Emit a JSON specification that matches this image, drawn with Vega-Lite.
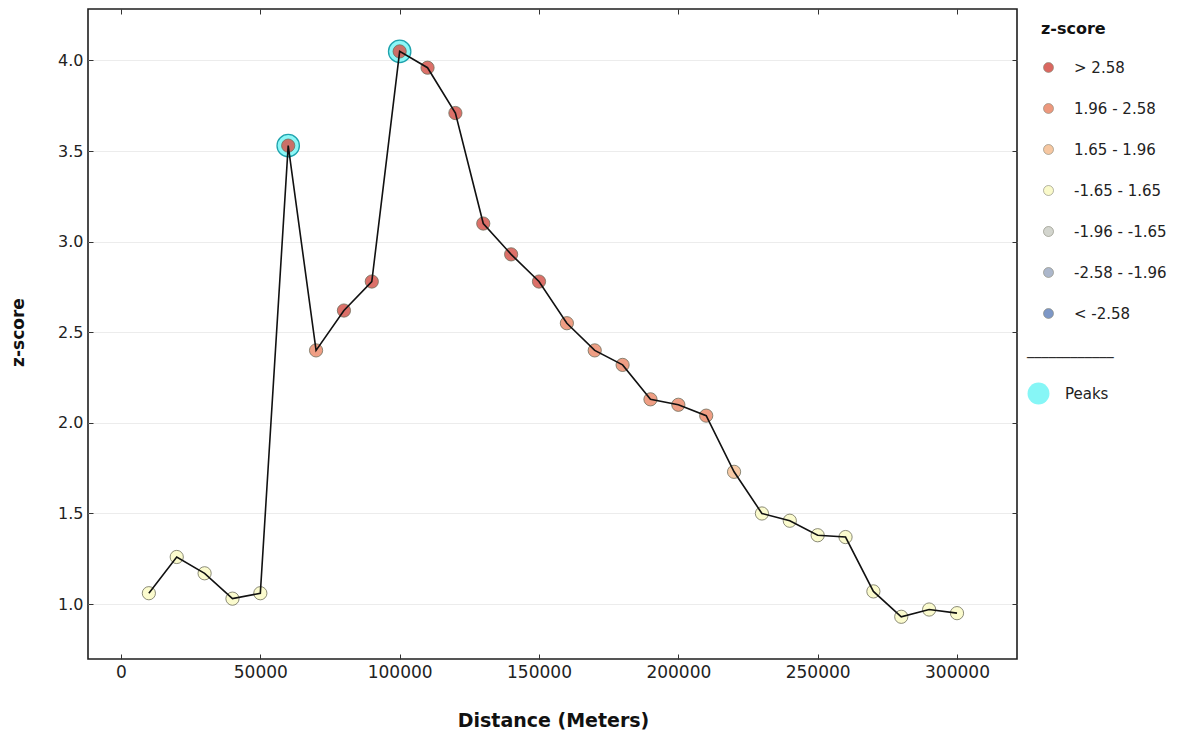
{
  "$schema": "https://vega.github.io/schema/vega-lite/v6.json",
  "width": 929,
  "height": 650,
  "autosize": {"type": "none"},
  "padding": {"left": 88, "top": 9, "right": 172, "bottom": 79},
  "background": "white",
  "config": {
    "font": "DejaVu Sans",
    "view": {"stroke": "#1e1e1e", "strokeWidth": 1.6},
    "axis": {
      "domain": false,
      "tickColor": "#333333",
      "tickSize": -5,
      "tickWidth": 1,
      "labelColor": "#222222",
      "titleColor": "#111111",
      "titleFontWeight": "bold"
    }
  },
  "data": {
    "values": [
      {"distance": 10000, "zscore": 1.06, "cls": "-1.65 - 1.65", "peak": false},
      {"distance": 20000, "zscore": 1.26, "cls": "-1.65 - 1.65", "peak": false},
      {"distance": 30000, "zscore": 1.17, "cls": "-1.65 - 1.65", "peak": false},
      {"distance": 40000, "zscore": 1.03, "cls": "-1.65 - 1.65", "peak": false},
      {"distance": 50000, "zscore": 1.06, "cls": "-1.65 - 1.65", "peak": false},
      {"distance": 60000, "zscore": 3.53, "cls": "> 2.58", "peak": true},
      {"distance": 70000, "zscore": 2.40, "cls": "1.96 - 2.58", "peak": false},
      {"distance": 80000, "zscore": 2.62, "cls": "> 2.58", "peak": false},
      {"distance": 90000, "zscore": 2.78, "cls": "> 2.58", "peak": false},
      {"distance": 100000, "zscore": 4.05, "cls": "> 2.58", "peak": true},
      {"distance": 110000, "zscore": 3.96, "cls": "> 2.58", "peak": false},
      {"distance": 120000, "zscore": 3.71, "cls": "> 2.58", "peak": false},
      {"distance": 130000, "zscore": 3.10, "cls": "> 2.58", "peak": false},
      {"distance": 140000, "zscore": 2.93, "cls": "> 2.58", "peak": false},
      {"distance": 150000, "zscore": 2.78, "cls": "> 2.58", "peak": false},
      {"distance": 160000, "zscore": 2.55, "cls": "1.96 - 2.58", "peak": false},
      {"distance": 170000, "zscore": 2.40, "cls": "1.96 - 2.58", "peak": false},
      {"distance": 180000, "zscore": 2.32, "cls": "1.96 - 2.58", "peak": false},
      {"distance": 190000, "zscore": 2.13, "cls": "1.96 - 2.58", "peak": false},
      {"distance": 200000, "zscore": 2.10, "cls": "1.96 - 2.58", "peak": false},
      {"distance": 210000, "zscore": 2.04, "cls": "1.96 - 2.58", "peak": false},
      {"distance": 220000, "zscore": 1.73, "cls": "1.65 - 1.96", "peak": false},
      {"distance": 230000, "zscore": 1.50, "cls": "-1.65 - 1.65", "peak": false},
      {"distance": 240000, "zscore": 1.46, "cls": "-1.65 - 1.65", "peak": false},
      {"distance": 250000, "zscore": 1.38, "cls": "-1.65 - 1.65", "peak": false},
      {"distance": 260000, "zscore": 1.37, "cls": "-1.65 - 1.65", "peak": false},
      {"distance": 270000, "zscore": 1.07, "cls": "-1.65 - 1.65", "peak": false},
      {"distance": 280000, "zscore": 0.93, "cls": "-1.65 - 1.65", "peak": false},
      {"distance": 290000, "zscore": 0.97, "cls": "-1.65 - 1.65", "peak": false},
      {"distance": 300000, "zscore": 0.95, "cls": "-1.65 - 1.65", "peak": false}
    ]
  },
  "encoding": {
    "x": {
      "field": "distance",
      "type": "quantitative",
      "scale": {"domain": [-11842, 321531], "nice": false, "zero": false},
      "axis": null
    },
    "y": {
      "field": "zscore",
      "type": "quantitative",
      "scale": {"domain": [0.697, 4.284], "nice": false, "zero": false},
      "axis": null
    }
  },
  "layer": [
    {
      "transform": [{"filter": "datum.peak"}],
      "mark": {"type": "point", "filled": true, "size": 500, "fill": "#80f6f6", "stroke": "#1fa3ad", "strokeWidth": 1.3, "fillOpacity": 0.9},
      "encoding": {
        "x": {
          "field": "distance",
          "type": "quantitative",
          "title": "Distance (Meters)",
          "axis": {
            "values": [0, 50000, 100000, 150000, 200000, 250000, 300000],
            "format": "d",
            "grid": false,
            "labelFontSize": 17,
            "labelPadding": 10,
            "titleFontSize": 19,
            "titleX": 465,
            "titleY": 61,
            "titleBaseline": "middle",
            "titleAlign": "center"
          }
        },
        "y": {
          "field": "zscore",
          "type": "quantitative",
          "title": "z-score",
          "axis": {
            "values": [1.0, 1.5, 2.0, 2.5, 3.0, 3.5, 4.0],
            "format": ".1f",
            "grid": true,
            "gridColor": "#ececec",
            "gridWidth": 1,
            "labelFontSize": 16,
            "labelPadding": 10,
            "titleFontSize": 17,
            "titleAngle": 270,
            "titleX": -70,
            "titleY": 323,
            "titleBaseline": "middle",
            "titleAlign": "center"
          }
        },
        "shape": {
          "datum": "Peaks",
          "type": "nominal",
          "scale": {"domain": ["Peaks"], "range": ["circle"]},
          "legend": {
            "orient": "none",
            "legendX": 939,
            "legendY": 344,
            "title": "────────────",
            "titleFont": "DejaVu Sans",
            "titleFontSize": 12,
            "titleFontWeight": "normal",
            "titleColor": "#111111",
            "titlePadding": 17,
            "padding": 0,
            "symbolType": "circle",
            "symbolSize": 480,
            "symbolFillColor": "#80f6f6",
            "symbolStrokeColor": "#5fc7cc",
            "symbolStrokeWidth": 1,
            "symbolOpacity": 0.95,
            "labelFontSize": 15,
            "labelColor": "#222222",
            "labelOffset": 15
          }
        }
      }
    },
    {
      "mark": {"type": "point", "filled": true, "size": 175, "stroke": "#6f6f5c", "strokeWidth": 0.8, "fillOpacity": 0.85},
      "encoding": {
        "fill": {
          "field": "cls",
          "type": "nominal",
          "scale": {
            "domain": ["> 2.58", "1.96 - 2.58", "1.65 - 1.96", "-1.65 - 1.65", "-1.96 - -1.65", "-2.58 - -1.96", "< -2.58"],
            "range": ["#d6574f", "#ec8d6f", "#f6c197", "#fafac6", "#cfd1c9", "#a4b0c6", "#6f8cc0"]
          },
          "legend": {
            "orient": "none",
            "legendX": 953,
            "legendY": 12,
            "title": "z-score",
            "titleFontSize": 16,
            "titleFontWeight": "bold",
            "titleColor": "#111111",
            "titlePadding": 23,
            "padding": 0,
            "rowPadding": 25,
            "symbolType": "circle",
            "symbolSize": 100,
            "symbolStrokeColor": "#777766",
            "symbolStrokeWidth": 0.6,
            "symbolOpacity": 0.9,
            "labelFontSize": 15,
            "labelColor": "#222222",
            "labelOffset": 18
          }
        }
      }
    },
    {
      "mark": {"type": "line", "color": "#111111", "strokeWidth": 1.6},
      "encoding": {
        "x": {
          "field": "distance",
          "type": "quantitative",
          "axis": {
            "orient": "top",
            "values": [0, 50000, 100000, 150000, 200000, 250000, 300000],
            "labels": false,
            "grid": false,
            "title": null
          }
        },
        "y": {
          "field": "zscore",
          "type": "quantitative",
          "axis": {
            "orient": "right",
            "values": [1.0, 1.5, 2.0, 2.5, 3.0, 3.5, 4.0],
            "labels": false,
            "grid": false,
            "title": null
          }
        }
      }
    }
  ],
  "resolve": {"axis": {"x": "independent", "y": "independent"}}
}
